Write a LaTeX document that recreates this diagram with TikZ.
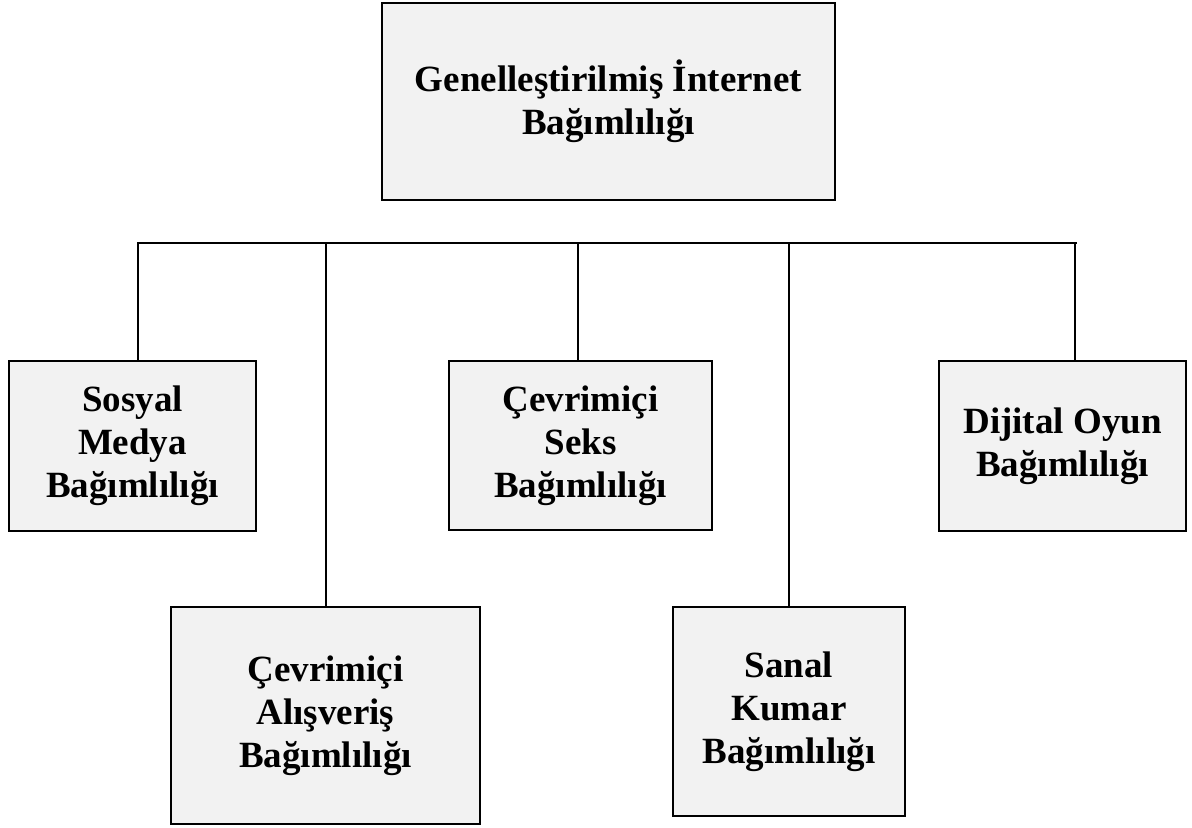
\documentclass[tikz,border=0pt]{standalone}
\usepackage{fontspec}
\setmainfont{Liberation Serif}
\begin{document}
\begin{tikzpicture}[x=1bp,y=-1bp,
  box/.style={draw=black, line width=1.8bp, fill=boxgray, rectangle,
    inner sep=0pt, align=center,
    font=\bfseries\fontsize{37bp}{43bp}\selectfont},
  link/.style={draw=black, line width=1.8bp}]
\definecolor{boxgray}{HTML}{F2F2F2}
\useasboundingbox (0,0) rectangle (1192,828);

% root
\node[box, minimum width=453bp, minimum height=197bp] (root) at (608.5,101.5)
  {Genelleştirilmiş İnternet\\Bağımlılığı};

% children
\node[box, minimum width=247bp, minimum height=170bp] (sosyal) at (132.5,446)
  {Sosyal\\Medya\\Bağımlılığı};
\node[box, minimum width=309bp, minimum height=217bp] (alis) at (325.5,715.5)
  {Çevrimiçi\\Alışveriş\\Bağımlılığı};
\node[box, minimum width=263bp, minimum height=169bp] (seks) at (580.5,445.5)
  {Çevrimiçi\\Seks\\Bağımlılığı};
\node[box, minimum width=232bp, minimum height=209bp] (kumar) at (789,711.5)
  {Sanal\\Kumar\\Bağımlılığı};
\node[box, minimum width=247bp, minimum height=170bp] (oyun) at (1062.5,446)
  {Dijital Oyun\\Bağımlılığı};

% horizontal bar and its branch points
\coordinate (barL) at (137,243);
\coordinate (barR) at (1077,243);
\coordinate (b1) at (138,243);
\coordinate (b2) at (326,243);
\coordinate (b3) at (578,243);
\coordinate (b4) at (789,243);
\coordinate (b5) at (1075,243);
\draw[link] (barL) -- (barR);

\draw[link] (b1) -- (b1 |- sosyal.north);
\draw[link] (b2) -- (b2 |- alis.north);
\draw[link] (b3) -- (b3 |- seks.north);
\draw[link] (b4) -- (b4 |- kumar.north);
\draw[link] (b5) -- (b5 |- oyun.north);
\end{tikzpicture}
\end{document}
